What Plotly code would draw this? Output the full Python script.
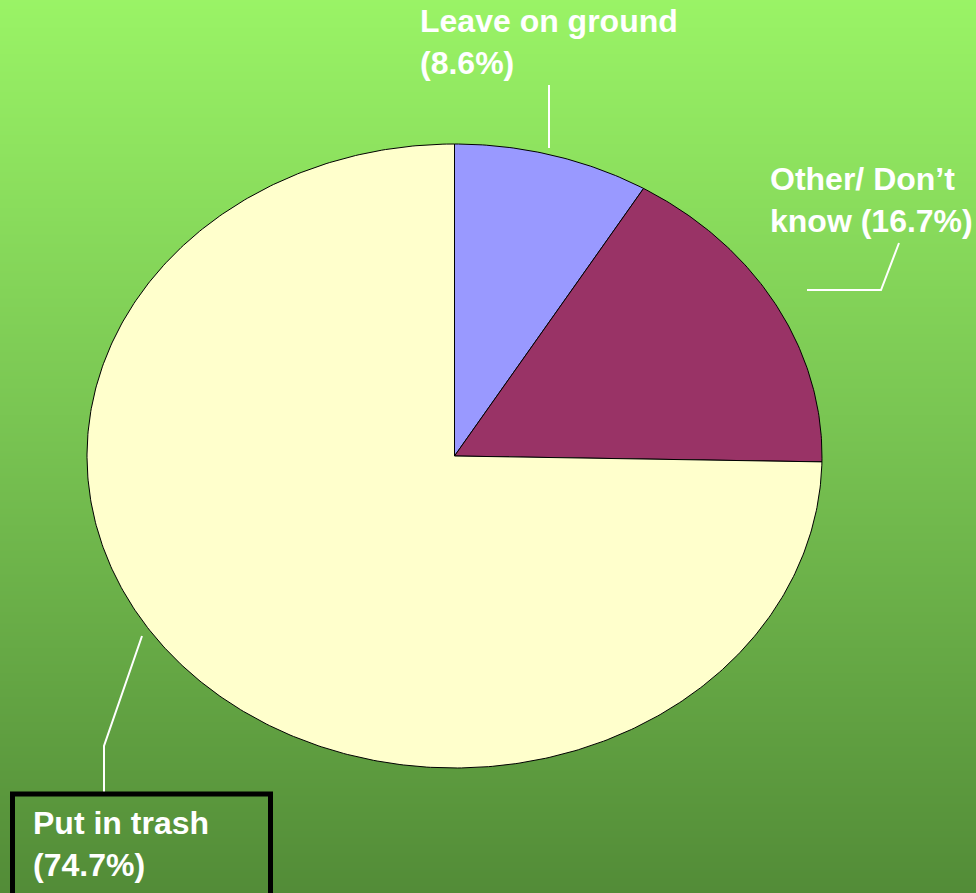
import numpy as np
import plotly.graph_objects as go

# Survey answers and their shares (percent)
categories = ["Leave on ground", "Other/ Don\u2019t know", "Put in trash"]
shares = [8.6, 16.7, 74.7]
label_texts = ["Leave on ground<br>(8.6%)", "Other/ Don\u2019t<br>know (16.7%)", "Put in trash<br>(74.7%)"]
slice_colors = ["#9999FF", "#993366", "#FFFFCC"]

W, H = 976, 893
CX, CY = 454.5, 456.0      # pie centre (pixel space)
RX, RY = 367.5, 312.0      # ellipse radii

fig = go.Figure()

# Vertical green gradient behind everything
fig.add_trace(go.Heatmap(
    x=[-5, W + 5], y=[-5, H + 5], z=[[0, 0], [1, 1]],
    zsmooth="best", showscale=False, hoverinfo="skip",
    colorscale=[[0, "#9AF466"], [0.5, "#77C251"], [1, "#528B37"]],
))

# Elliptical pie: slices run clockwise from 12 o'clock
total = sum(shares)
start = 0.0
for name, val, col in zip(categories, shares, slice_colors):
    a0 = start / total * 2 * np.pi
    a1 = (start + val) / total * 2 * np.pi
    t = np.linspace(a0, a1, max(int(val * 6), 20))
    xs = np.concatenate([[CX], CX + RX * np.sin(t), [CX]])
    ys = np.concatenate([[CY], CY - RY * np.cos(t), [CY]])
    fig.add_trace(go.Scatter(
        x=xs, y=ys, mode="lines", fill="toself", fillcolor=col,
        line=dict(color="black", width=1), name=name, hoverinfo="name",
    ))
    start += val

font = dict(family="Liberation Sans, Arial, sans-serif", size=32, color="white", weight="bold")

label_pos = [(418, 1), (768, 159), (31, 803)]
for txt, (lx, ly) in zip(label_texts, label_pos):
    fig.add_annotation(x=lx, y=ly, xref="x", yref="y", text=txt, showarrow=False,
                       xanchor="left", yanchor="top", align="left", font=font)

# Leader lines
leaders = [
    "M 549 85 L 549 148",
    "M 899 243 L 881 290 L 807 290",
    "M 142 636 L 104 746 L 104 793",
]
shapes = [dict(type="path", path=p, xref="x", yref="y",
               line=dict(color="white", width=2)) for p in leaders]
# Framed box round the trash label
shapes.append(dict(type="rect", xref="x", yref="y", x0=12.5, x1=270.5, y0=794, y1=905,
                   line=dict(color="black", width=5), fillcolor="rgba(0,0,0,0)"))

fig.update_layout(
    width=W, height=H, margin=dict(l=0, r=0, t=0, b=0),
    paper_bgcolor="#77C251", plot_bgcolor="#77C251",
    showlegend=False, shapes=shapes,
    xaxis=dict(range=[0, W], visible=False, fixedrange=True),
    yaxis=dict(range=[H, 0], visible=False, fixedrange=True),
)

fig.write_html("out.html")
